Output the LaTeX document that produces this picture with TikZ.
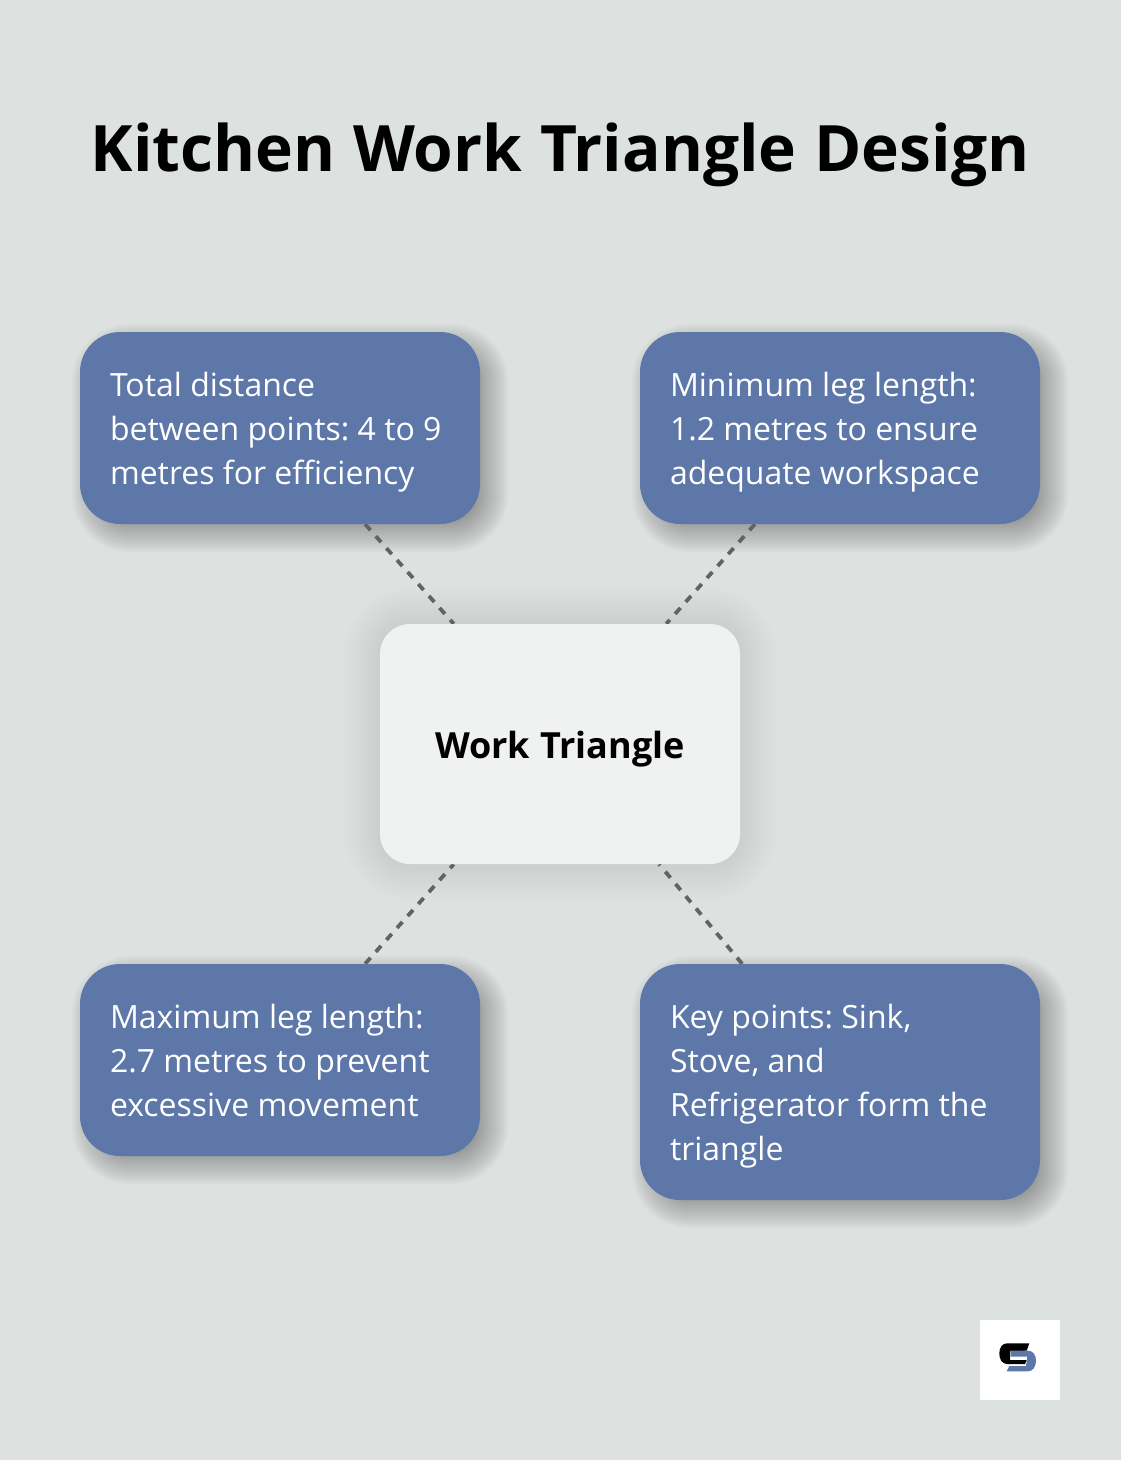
\documentclass[tikz,border=0pt]{standalone}
\usepackage{fontspec}
\setmainfont{Open Sans}
\newfontfamily\headfont[WordSpace=1.08]{Open Sans}
\usetikzlibrary{backgrounds}
\definecolor{bgc}{HTML}{DDE1DF}
\definecolor{bluec}{HTML}{5D77A8}
\definecolor{lightc}{HTML}{F0F2F1}
\definecolor{dashc}{HTML}{636363}
\newcommand{\bodysp}{\spaceskip 8.3pt\relax}
\tikzset{
  x=1pt,y=-1pt,
  bluebox/.style={rectangle,rounded corners=40pt,fill=bluec,text=white,text width=340pt,inner xsep=30pt,inner ysep=0pt,minimum width=400pt,align=left,font=\fontsize{32}{44}\selectfont},
  lightbox/.style={rectangle,rounded corners=30pt,fill=lightc,minimum width=360pt,minimum height=240pt,inner sep=0pt,font=\fontsize{36}{44}\selectfont\headfont\bfseries},
  titletext/.style={font=\fontsize{64}{76}\selectfont\headfont\bfseries,inner sep=0pt},
  link/.style={draw=dashc,line width=3.8pt,dash pattern=on 8pt off 8pt},
  logotile/.style={fill=white,draw=none}
}
\newcommand{\softshadow}[7]{% node, dx, dy, radius, spread, opacity, step
  \foreach \i in {-#5,#7,...,#5}{
    \pgfmathsetmacro{\rr}{max(1,#4+\i)}
    \fill[black,opacity=#6,rounded corners=\rr pt]
      ([xshift=#2pt-\i pt,yshift=-#3pt+\i pt]#1.north west) rectangle ([xshift=#2pt+\i pt,yshift=-#3pt-\i pt]#1.south east);
  }
}
\newcommand{\ls}{\rule[-11pt]{0pt}{33pt}}
\newcommand{\lf}{\bodysp\rule[-11pt]{0pt}{47pt}}
\begin{document}
\frenchspacing
\begin{tikzpicture}
\useasboundingbox (0,0) rectangle (1120,1460);
\node[lightbox] (c) at (560,744) {\rule[-8pt]{0pt}{46pt}Work Triangle};
\node[bluebox,minimum height=192pt] (a) at (280,428) {\lf Total distance\\\ls between points: 4 to 9\\\ls metres for efficiency};
\node[bluebox,minimum height=192pt] (b) at (840,428) {\lf Minimum leg length:\\\ls 1.2 metres to ensure\\\ls adequate workspace};
\node[bluebox,minimum height=192pt] (d) at (280,1060) {\lf Maximum leg length:\\\ls 2.7 metres to prevent\\\ls excessive movement};
\node[bluebox,minimum height=236pt] (e) at (840,1082) {\lf Key points: Sink,\\\ls Stove, and\\\ls Refrigerator form the\\\ls triangle};
\node[titletext] (t) at (560,155) {Kitchen Work Triangle Design};
\node[logotile,minimum size=80pt,inner sep=0pt] (l) at (1020,1360) {};
\fill[black] (1029.3,1343.3) -- (1007,1343.3) .. controls (1002,1343.3) and (999.3,1348) .. (999.3,1353.5) .. controls (999.3,1359) and (1002,1364) .. (1007,1364) -- (1025,1364) -- (1026.7,1360) -- (1010,1360) -- (1010,1351) -- (1026.7,1350.7) -- cycle;
\fill[bluec] (1010.5,1350.7) -- (1028,1350.7) .. controls (1033,1350.7) and (1036,1355) .. (1036,1360.5) .. controls (1036,1366.5) and (1033,1371.3) .. (1028,1371.3) -- (1006.7,1371.3) -- (1009.3,1366) -- (1026,1366) -- (1027.3,1356.7) -- (1010.5,1356.7) -- cycle;
\begin{pgfonlayer}{background}
\fill[bgc] (-2,-2) rectangle (1124,1464);
\softshadow{a}{10}{10}{40}{18}{0.018}{-16}
\softshadow{b}{10}{10}{40}{18}{0.018}{-16}
\softshadow{d}{10}{10}{40}{18}{0.018}{-16}
\softshadow{e}{10}{10}{40}{18}{0.018}{-16}
\softshadow{c}{0}{0}{30}{36}{0.005}{-34}
\draw[link] (a) -- (c);
\draw[link] (b) -- (c);
\draw[link] (d) -- (c);
\draw[link] (e) -- (c);
\end{pgfonlayer}
\end{tikzpicture}
\end{document}
